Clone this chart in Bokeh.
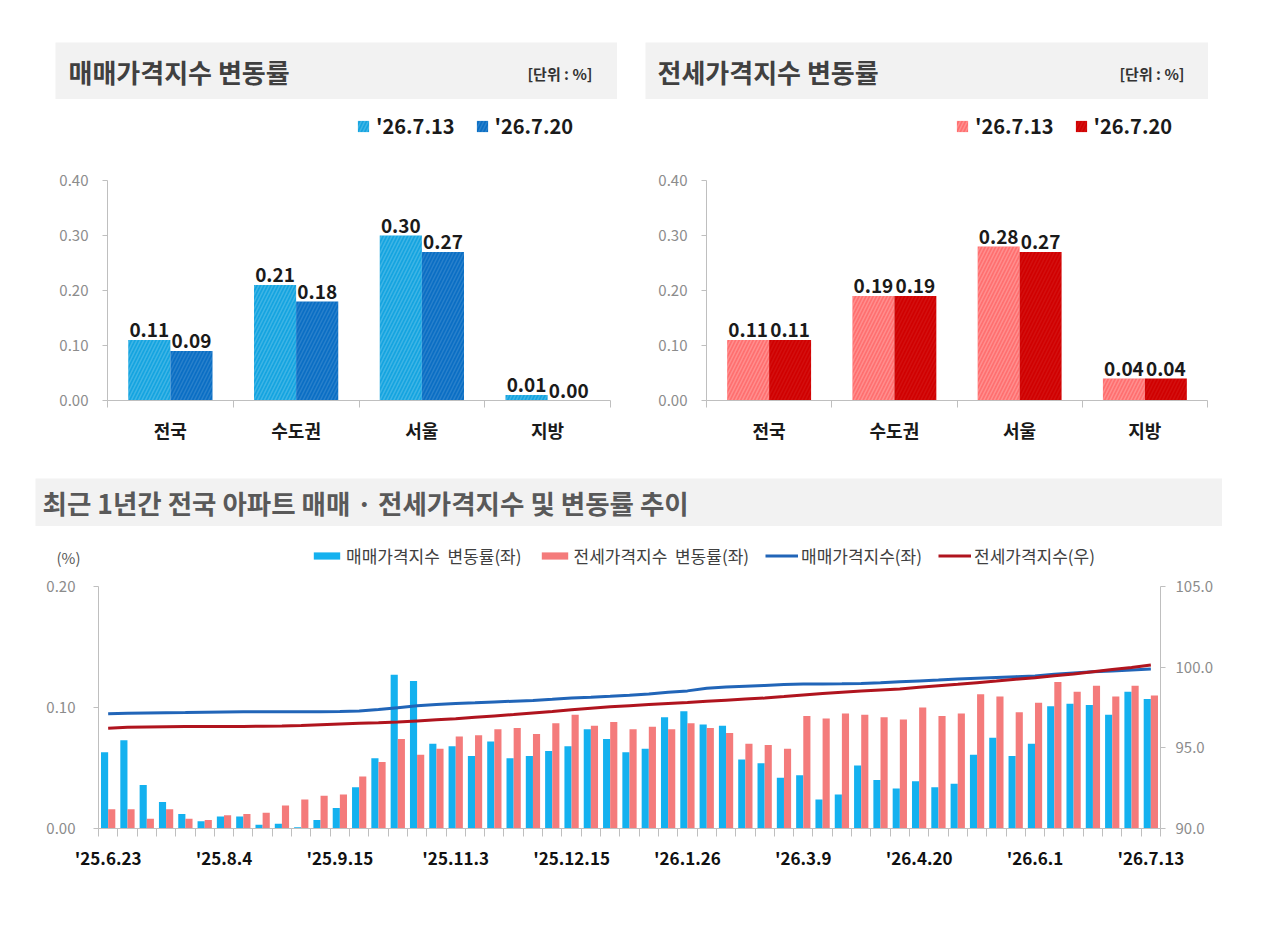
from bokeh.plotting import figure
from bokeh.models import (ColumnDataSource, FixedTicker, Range1d, LinearAxis, Legend,
                          LegendItem, Label, Spacer, NumeralTickFormatter)
from bokeh.layouts import column, row
from bokeh.embed import file_html
from bokeh.resources import INLINE
from bokeh.core.properties import value

KR = "Noto Sans CJK KR"
NUM = "Noto Sans CJK KR"

# ---------------- data ----------------
regions = ["전국", "수도권", "서울", "지방"]
legend_dates = ["'26.7.13", "'26.7.20"]
sale_prev = [0.11, 0.21, 0.30, 0.01]
sale_curr = [0.09, 0.18, 0.27, 0.00]
jeonse_prev = [0.11, 0.19, 0.28, 0.04]
jeonse_curr = [0.11, 0.19, 0.27, 0.04]

weeks = ["'25.6.23", "'25.6.30", "'25.7.7", "'25.7.14", "'25.7.21", "'25.7.28", "'25.8.4",
         "'25.8.11", "'25.8.18", "'25.8.25", "'25.9.1", "'25.9.8", "'25.9.15", "'25.9.22",
         "'25.9.29", "'25.10.13", "'25.10.20", "'25.10.27", "'25.11.3", "'25.11.10",
         "'25.11.17", "'25.11.24", "'25.12.1", "'25.12.8", "'25.12.15", "'25.12.22",
         "'25.12.29", "'26.1.5", "'26.1.12", "'26.1.19", "'26.1.26", "'26.2.2", "'26.2.9",
         "'26.2.16", "'26.2.23", "'26.3.2", "'26.3.9", "'26.3.16", "'26.3.23", "'26.3.30",
         "'26.4.6", "'26.4.13", "'26.4.20", "'26.4.27", "'26.5.4", "'26.5.11", "'26.5.18",
         "'26.5.25", "'26.6.1", "'26.6.8", "'26.6.15", "'26.6.22", "'26.6.29", "'26.7.6",
         "'26.7.13"]

sale_rate = [0.063, 0.073, 0.036, 0.022, 0.012, 0.006, 0.010, 0.010, 0.003, 0.004,
             0.001, 0.007, 0.017, 0.034, 0.058, 0.127, 0.122, 0.070, 0.068, 0.060,
             0.072, 0.058, 0.060, 0.064, 0.068, 0.082, 0.074, 0.063, 0.066, 0.092,
             0.097, 0.086, 0.085, 0.057, 0.054, 0.042, 0.044, 0.024, 0.028, 0.052,
             0.040, 0.033, 0.039, 0.034, 0.037, 0.061, 0.075, 0.060, 0.070, 0.101,
             0.103, 0.102, 0.094, 0.113, 0.107]
jeonse_rate = [0.016, 0.016, 0.008, 0.016, 0.008, 0.007, 0.011, 0.012, 0.013, 0.019,
               0.024, 0.027, 0.028, 0.043, 0.055, 0.074, 0.061, 0.066, 0.076, 0.077,
               0.082, 0.083, 0.078, 0.087, 0.094, 0.085, 0.088, 0.082, 0.084, 0.082,
               0.087, 0.083, 0.079, 0.070, 0.069, 0.066, 0.093, 0.091, 0.095, 0.094,
               0.092, 0.090, 0.100, 0.093, 0.095, 0.111, 0.109, 0.096, 0.104, 0.121,
               0.113, 0.118, 0.109, 0.118, 0.110]
sale_index = [97.11, 97.14, 97.16, 97.18, 97.19, 97.21, 97.22, 97.23, 97.23, 97.23,
              97.23, 97.24, 97.25, 97.29, 97.37, 97.49, 97.61, 97.68, 97.75, 97.79,
              97.84, 97.89, 97.94, 98.01, 98.09, 98.13, 98.19, 98.26, 98.34, 98.44,
              98.53, 98.70, 98.77, 98.82, 98.87, 98.92, 98.95, 98.96, 98.97, 98.99,
              99.04, 99.10, 99.15, 99.20, 99.26, 99.31, 99.36, 99.41, 99.46, 99.56,
              99.64, 99.71, 99.77, 99.83, 99.88]
jeonse_index = [96.22, 96.27, 96.29, 96.31, 96.32, 96.32, 96.33, 96.33, 96.34, 96.35,
                96.38, 96.43, 96.48, 96.52, 96.55, 96.60, 96.67, 96.74, 96.81, 96.90,
                96.98, 97.06, 97.16, 97.25, 97.36, 97.46, 97.54, 97.61, 97.68, 97.75,
                97.81, 97.88, 97.95, 98.02, 98.09, 98.18, 98.28, 98.37, 98.45, 98.52,
                98.59, 98.65, 98.76, 98.85, 98.94, 99.04, 99.14, 99.25, 99.35, 99.47,
                99.57, 99.72, 99.86, 99.98, 100.14]

series_names = ["매매가격지수  변동률(좌)", "전세가격지수  변동률(좌)",
                "매매가격지수(좌)", "전세가격지수(우)"]

SALE_BAR, JEONSE_BAR = "#14b1ef", "#f47b7b"
SALE_LINE, JEONSE_LINE = "#2165b8", "#b0141e"


# ---------------- helpers ----------------
def blank_fig(w, h, bg):
    p = figure(width=w, height=h, x_range=Range1d(0, w), y_range=Range1d(0, h),
               x_axis_type=None, y_axis_type=None, output_backend="svg",
               toolbar_location=None, min_border=0)
    p.grid.visible = False
    p.outline_line_color = None
    p.background_fill_color = bg
    p.border_fill_color = bg
    return p


def title_bar(w, h, text, size, color, left_pad, unit=None, right_pad=0):
    p = blank_fig(w, h, "#f2f2f2")
    p.add_layout(Label(x=left_pad, y=h / 2, text=text, text_font=KR,
                       text_font_style="bold", text_font_size=size,
                       text_baseline="middle", text_color=color))
    if unit:
        p.add_layout(Label(x=w - right_pad, y=h / 2 - 2, text=unit, text_font=KR,
                           text_font_style="bold", text_font_size="15px",
                           text_baseline="middle", text_align="right",
                           text_color="#333333"))
    return p


Y_TOP = 0.4 * 295 / 220


def bar_chart(w, prev, curr, c_prev, c_curr, ha_prev, ha_curr, mb_left, mb_right):
    p = figure(width=w, height=371, x_range=Range1d(-0.5, 3.5), y_range=Range1d(0, Y_TOP),
               output_backend="svg", toolbar_location=None,
               min_border_left=mb_left, min_border_right=mb_right,
               min_border_top=6, min_border_bottom=70)
    p.grid.visible = False
    p.outline_line_color = None
    idx = list(range(len(regions)))
    src = ColumnDataSource(dict(
        xp=[i - 0.1675 for i in idx], xc=[i + 0.1675 for i in idx],
        prev=prev, curr=curr,
        lp=[f"{v:.2f}" for v in prev], lc=[f"{v:.2f}" for v in curr]))
    r1 = p.vbar(x="xp", top="prev", width=0.335, source=src, fill_color=c_prev,
                line_color=None, hatch_pattern="/", hatch_color="white",
                hatch_alpha=ha_prev, hatch_scale=7, hatch_weight=1.5)
    r2 = p.vbar(x="xc", top="curr", width=0.335, source=src, fill_color=c_curr,
                line_color=None, hatch_pattern="/", hatch_color="white",
                hatch_alpha=ha_curr, hatch_scale=7, hatch_weight=1.5)
    for xk, lk, yk in (("xp", "lp", "prev"), ("xc", "lc", "curr")):
        p.text(x=xk, y=yk, text=lk, source=src, text_font=value(NUM),
               text_font_style="bold", text_font_size="19px", text_align="center",
               text_baseline="bottom", y_offset=-3, text_color="#1a1a1a")
    # axes
    p.yaxis.ticker = FixedTicker(ticks=[0, 0.1, 0.2, 0.3, 0.4])
    p.yaxis.bounds = (0, 0.4)
    p.yaxis.formatter = NumeralTickFormatter(format="0.00")
    p.yaxis.axis_line_color = "#bfbfbf"
    p.yaxis.major_tick_line_color = "#bfbfbf"
    p.yaxis.major_tick_out = 5
    p.yaxis.major_tick_in = 0
    p.yaxis.minor_tick_line_color = None
    p.yaxis.major_label_text_color = "#8c8c8c"
    p.yaxis.major_label_text_font = KR
    p.yaxis.major_label_text_font_size = "15px"
    p.yaxis.major_label_standoff = 14
    p.xaxis.ticker = FixedTicker(ticks=idx, minor_ticks=[i - 0.5 for i in range(len(regions) + 1)])
    p.xaxis.major_label_overrides = {i: regions[i] for i in idx}
    p.xaxis.axis_line_color = "#bfbfbf"
    p.xaxis.major_tick_line_color = None
    p.xaxis.major_tick_out = 0
    p.xaxis.major_tick_in = 0
    p.xaxis.minor_tick_line_color = "#bfbfbf"
    p.xaxis.minor_tick_out = 7
    p.xaxis.minor_tick_in = 0
    p.xaxis.major_label_text_font = KR
    p.xaxis.major_label_text_font_style = "bold"
    p.xaxis.major_label_text_font_size = "18px"
    p.xaxis.major_label_text_color = "#1a1a1a"
    p.xaxis.major_label_standoff = 9
    leg = Legend(items=[LegendItem(label=legend_dates[0], renderers=[r1]),
                        LegendItem(label=legend_dates[1], renderers=[r2])],
                 orientation="horizontal", location=(249, 260),
                 glyph_width=14, glyph_height=14, label_standoff=6, spacing=20,
                 padding=0, margin=0, border_line_color=None,
                 background_fill_alpha=0, label_text_font=KR,
                 label_text_font_style="bold", label_text_font_size="20px",
                 label_text_color="#1a1a1a")
    p.add_layout(leg)
    return p


# ---------------- top panels ----------------
tb1 = title_bar(562, 57, "매매가격지수 변동률", "26px", "#404040", 13, "[단위 : %]", 25)
tb2 = title_bar(563, 57, "전세가격지수 변동률", "26px", "#404040", 12, "[단위 : %]", 24)
p1 = bar_chart(562, sale_prev, sale_curr, "#14a4e0", "#0a6ec4", 0.18, 0.12, 52, 7)
p2 = bar_chart(563, jeonse_prev, jeonse_curr, "#ff6f6f", "#d00000", 0.22, 0.06, 61, 1)

title_row = row(Spacer(width=55, height=57), tb1, Spacer(width=28, height=57), tb2)
chart_row = row(Spacer(width=55, height=371), p1, Spacer(width=28, height=371), p2)

# ---------------- bottom panel ----------------
tb3 = title_bar(1187, 48, "최근 1년간 전국 아파트 매매 · 전세가격지수 및 변동률 추이", "26.5px",
                "#595959", 7)

# legend strip (unit label + legend keys); key renderers hold no drawable data
strip = blank_fig(1280, 44, "white")
strip.add_layout(Label(x=68, y=44 - 31, text="(%)", text_font=KR, text_font_size="15px",
                       text_align="center", text_baseline="middle", text_color="#595959"))
NA = [float("nan")]
k1 = strip.vbar(x=NA, top=NA, width=1, fill_color=SALE_BAR, line_color=None)
k2 = strip.vbar(x=NA, top=NA, width=1, fill_color=JEONSE_BAR, line_color=None)
k3 = strip.line(x=NA, y=NA, line_color=SALE_LINE, line_width=3)
k4 = strip.line(x=NA, y=NA, line_color=JEONSE_LINE, line_width=3)
strip.add_layout(Legend(items=[LegendItem(label=series_names[0], renderers=[k1]),
                               LegendItem(label=series_names[1], renderers=[k2]),
                               LegendItem(label=series_names[2], renderers=[k3]),
                               LegendItem(label=series_names[3], renderers=[k4])],
                        orientation="horizontal", location=(310, 2),
                        glyph_width=33, glyph_height=9, label_standoff=3, spacing=16,
                        padding=0, margin=0, border_line_color=None,
                        background_fill_alpha=0, label_text_font=KR,
                        label_text_font_size="17px", label_text_color="#404040"))

n = len(weeks)
pb = figure(width=1280, height=346, x_range=Range1d(-0.5, n - 0.5), y_range=Range1d(0, 0.2),
            output_backend="svg", toolbar_location=None,
            min_border_left=98, min_border_right=120, min_border_top=16, min_border_bottom=88)
pb.extra_y_ranges = {"right": Range1d(90, 105)}
pb.grid.visible = False
pb.outline_line_color = None
ix = list(range(n))
bsrc = ColumnDataSource(dict(xs=[i - 0.185 for i in ix], xj=[i + 0.185 for i in ix], x=ix,
                             sale=sale_rate, jeonse=jeonse_rate,
                             si=sale_index, ji=jeonse_index))
pb.vbar(x="xs", top="sale", width=0.37, source=bsrc, fill_color=SALE_BAR, line_color=None)
pb.vbar(x="xj", top="jeonse", width=0.37, source=bsrc, fill_color=JEONSE_BAR, line_color=None)
pb.line(x="x", y="si", source=bsrc, line_color=SALE_LINE, line_width=3, y_range_name="right")
pb.line(x="x", y="ji", source=bsrc, line_color=JEONSE_LINE, line_width=3, y_range_name="right")

pb.yaxis.ticker = FixedTicker(ticks=[0, 0.1, 0.2])
pb.yaxis.formatter = NumeralTickFormatter(format="0.00")
ax_r = LinearAxis(y_range_name="right", ticker=FixedTicker(ticks=[90, 95, 100, 105]),
                  formatter=NumeralTickFormatter(format="0.0"))
pb.add_layout(ax_r, "right")
for ax, so in ((pb.yaxis[0], 18), (ax_r, 10)):
    ax.axis_line_color = "#bfbfbf"
    ax.major_tick_line_color = "#bfbfbf"
    ax.major_tick_out = 5
    ax.major_tick_in = 0
    ax.minor_tick_line_color = None
    ax.major_label_text_color = "#8c8c8c"
    ax.major_label_text_font = KR
    ax.major_label_text_font_size = "15px"
    ax.major_label_standoff = so

pb.xaxis.ticker = FixedTicker(ticks=list(range(0, n, 6)), minor_ticks=[i - 0.5 for i in range(n + 1)])
pb.xaxis.major_label_overrides = {i: weeks[i] for i in range(0, n, 6)}
pb.xaxis.axis_line_color = "#bfbfbf"
pb.xaxis.major_tick_line_color = None
pb.xaxis.major_tick_out = 0
pb.xaxis.major_tick_in = 0
pb.xaxis.minor_tick_line_color = "#bfbfbf"
pb.xaxis.minor_tick_out = 8
pb.xaxis.minor_tick_in = 0
pb.xaxis.major_label_text_font = KR
pb.xaxis.major_label_text_font_style = "bold"
pb.xaxis.major_label_text_font_size = "17px"
pb.xaxis.major_label_text_color = "#111111"
pb.xaxis.major_label_standoff = 8

bottom_title = row(Spacer(width=35, height=48), tb3)
strip_row = row(strip)
page = column(Spacer(width=1280, height=42), title_row, chart_row,
              Spacer(width=1280, height=8), bottom_title, strip_row, pb)

open("out.html", "w").write(file_html(page, INLINE))
